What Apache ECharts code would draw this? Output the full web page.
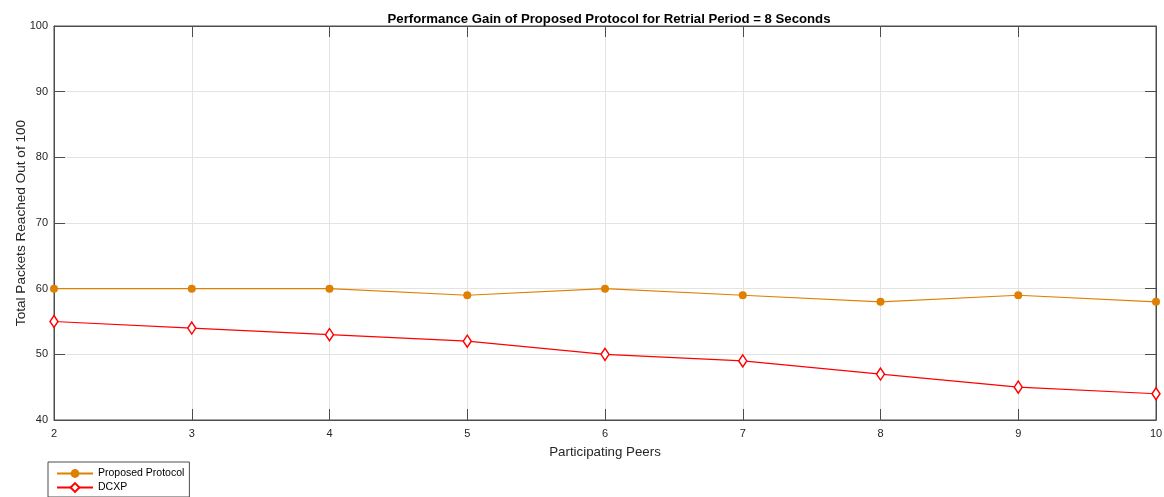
<!DOCTYPE html>
<html>
<head>
<meta charset="utf-8">
<script src="https://cdn.jsdelivr.net/npm/echarts@6/dist/echarts.min.js"></script>
<style>html,body{margin:0;padding:0;background:#fff;}#c{width:1164px;height:497px;}</style>
</head>
<body>
<div id="c"></div>
<script>
const peers = [2, 3, 4, 5, 6, 7, 8, 9, 10];
const proposedProtocol = [60, 60, 60, 59, 60, 59, 58, 59, 58];
const dcxp = [55, 54, 53, 52, 50, 49, 47, 45, 44];
const titleText = 'Performance Gain of Proposed Protocol for Retrial Period = 8 Seconds';
const xName = 'Participating Peers';
const yName = 'Total Packets Reached Out of 100';

const font = 'Liberation Sans, Arial, Helvetica, sans-serif';
const chart = echarts.init(document.getElementById('c'));
const axisCol = '#262626';
const lineCol = '#4d4d4d';
function mk(xs, ys){ return xs.map((x,i)=>[x, ys[i]]); }
chart.setOption({
  animation: false,
  title: { text: titleText, left: 604, top: 8, textAlign: 'center',
    textStyle: { fontFamily: font, fontSize: 13.2, fontWeight: 'bold', color: '#000' } },
  grid: { left: 54, right: 8, top: 26, bottom: 77, show: true, borderColor: lineCol, borderWidth: 1,
    containLabel: false, outerBoundsMode: 'none' },
  legend: {
    orient: 'vertical', left: 48, top: 462, itemGap: 3, itemWidth: 36, itemHeight: 11,
    padding: [6, 5, 4, 8],
    borderColor: lineCol, borderWidth: 1, backgroundColor: '#fff',
    textStyle: { fontFamily: font, fontSize: 10.5, color: '#000' },
    data: ['Proposed Protocol', 'DCXP']
  },
  xAxis: [{
    type: 'value', min: 2, max: 10, interval: 1,
    name: xName, nameLocation: 'middle', nameGap: 26, nameMoveOverlap: false,
    nameTextStyle: { fontFamily: font, fontSize: 13.3, color: '#262626' },
    axisLine: { show: true, lineStyle: { color: lineCol } },
    axisTick: { show: true, inside: true, length: 11, lineStyle: { color: lineCol } },
    axisLabel: { fontFamily: font, fontSize: 11, color: axisCol, margin: 8 },
    splitLine: { show: true, lineStyle: { color: '#e3e3e3' } }
  }, {
    type: 'value', min: 2, max: 10, interval: 1, position: 'top',
    axisLine: { show: true, lineStyle: { color: lineCol } },
    axisTick: { show: true, inside: true, length: 11, lineStyle: { color: lineCol } },
    axisLabel: { show: false }, splitLine: { show: false }
  }],
  yAxis: [{
    type: 'value', min: 40, max: 100, interval: 10,
    name: yName, nameLocation: 'middle', nameGap: 26, nameMoveOverlap: false,
    nameTextStyle: { fontFamily: font, fontSize: 13.6, color: '#262626' },
    axisLine: { show: true, lineStyle: { color: lineCol } },
    axisTick: { show: true, inside: true, length: 11, lineStyle: { color: lineCol } },
    axisLabel: { fontFamily: font, fontSize: 11, color: axisCol, margin: 6 },
    splitLine: { show: true, lineStyle: { color: '#e3e3e3' } }
  }, {
    type: 'value', min: 40, max: 100, interval: 10, position: 'right',
    axisLine: { show: true, lineStyle: { color: lineCol } },
    axisTick: { show: true, inside: true, length: 11, lineStyle: { color: lineCol } },
    axisLabel: { show: false }, splitLine: { show: false }
  }],
  series: [{
    name: 'Proposed Protocol', type: 'line', data: mk(peers, proposedProtocol),
    symbol: 'circle', symbolSize: 8,
    lineStyle: { color: '#DF8000', width: 1.2 },
    itemStyle: { color: '#DF8000' }
  }, {
    name: 'DCXP', type: 'line', data: mk(peers, dcxp),
    symbol: 'diamond', symbolSize: [8, 12],
    lineStyle: { color: '#FF0000', width: 1.2 },
    itemStyle: { color: '#ffffff', borderColor: '#FF0000', borderWidth: 1.5 }
  }]
});
</script>
</body>
</html>
